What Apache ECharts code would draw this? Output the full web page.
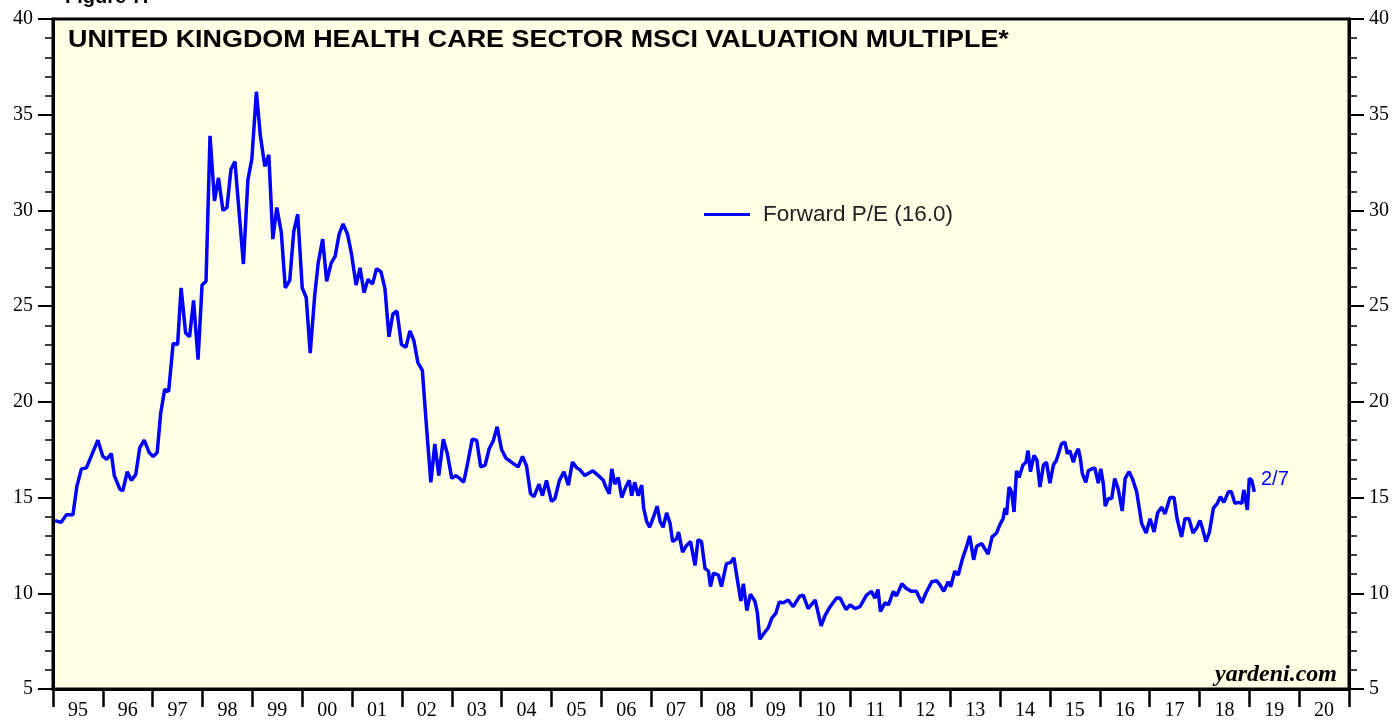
<!DOCTYPE html>
<html>
<head>
<meta charset="utf-8">
<script src="https://cdn.jsdelivr.net/npm/echarts@6/dist/echarts.min.js"></script>
<style>
html,body{margin:0;padding:0;background:#fff;}
#chart{width:1395px;height:721px;}
</style>
</head>
<body>
<div id="chart"></div>
<script>
const yearLabels = ['95','96','97','98','99','00','01','02','03','04','05','06','07','08','09','10','11','12','13','14','15','16','17','18','19','20'];
const yTicks = [5, 40, 5]; // min, max, step

const dates = [
1995.04,1995.16,1995.27,1995.40,1995.48,1995.57,1995.67,1995.90,1996.00,1996.08,1996.17,1996.23,1996.34,1996.40,1996.49,1996.57,1996.66,1996.74,1996.83,1996.93,
1997.01,1997.09,1997.16,1997.24,1997.32,1997.41,1997.50,1997.57,1997.66,1997.74,1997.82,1997.91,1997.99,1998.07,1998.15,1998.24,1998.32,1998.41,1998.49,1998.57,
1998.65,1998.82,1998.91,1998.99,1999.08,1999.16,1999.25,1999.33,1999.41,1999.49,1999.58,1999.66,1999.75,1999.83,1999.91,2000.00,2000.08,2000.16,2000.25,2000.32,
2000.41,2000.49,2000.58,2000.66,2000.74,2000.82,2000.91,2000.99,2001.08,2001.16,2001.24,2001.32,2001.41,2001.49,2001.58,2001.66,2001.74,2001.82,2001.90,2001.99,
2002.08,2002.16,2002.24,2002.32,2002.41,2002.49,2002.58,2002.66,2002.74,2002.83,2002.91,2003.00,2003.08,2003.16,2003.24,2003.33,2003.41,2003.50,2003.58,2003.67,
2003.75,2003.83,2003.91,2004.00,2004.09,2004.17,2004.25,2004.33,2004.42,2004.50,2004.58,2004.65,2004.75,2004.82,2004.90,2005.00,2005.07,2005.16,2005.25,2005.34,
2005.42,2005.51,2005.57,2005.67,2005.83,2005.94,2006.04,2006.09,2006.16,2006.21,2006.27,2006.34,2006.41,2006.49,2006.56,2006.61,2006.67,2006.74,2006.81,2006.85,
2006.91,2006.97,2007.05,2007.12,2007.18,2007.24,2007.31,2007.38,2007.43,2007.51,2007.55,2007.63,2007.71,2007.79,2007.88,2007.94,2008.01,2008.08,2008.15,2008.19,
2008.25,2008.35,2008.41,2008.51,2008.59,2008.66,2008.73,2008.80,2008.85,2008.92,2008.99,2009.08,2009.13,2009.18,2009.26,2009.35,2009.42,2009.50,2009.57,2009.65,
2009.75,2009.85,2009.98,2010.05,2010.15,2010.29,2010.41,2010.49,2010.59,2010.72,2010.79,2010.91,2010.99,2011.09,2011.19,2011.32,2011.42,2011.49,2011.55,2011.60,
2011.69,2011.76,2011.86,2011.92,2012.03,2012.12,2012.22,2012.32,2012.43,2012.51,2012.63,2012.73,2012.79,2012.87,2012.96,2013.01,2013.09,2013.16,2013.24,2013.33,
2013.39,2013.47,2013.53,2013.63,2013.76,2013.84,2013.93,2013.99,2014.06,2014.10,2014.13,2014.18,2014.23,2014.28,2014.33,2014.38,2014.46,2014.52,2014.56,2014.61,
2014.68,2014.74,2014.80,2014.87,2014.93,2015.00,2015.07,2015.13,2015.19,2015.23,2015.30,2015.35,2015.40,2015.47,2015.52,2015.57,2015.61,2015.65,2015.72,2015.77,
2015.84,2015.90,2015.97,2016.02,2016.07,2016.11,2016.17,2016.24,2016.30,2016.37,2016.45,2016.51,2016.59,2016.66,2016.74,2016.84,2016.93,2017.01,2017.09,2017.16,
2017.24,2017.31,2017.41,2017.49,2017.55,2017.64,2017.71,2017.79,2017.87,2017.94,2018.01,2018.06,2018.13,2018.20,2018.28,2018.36,2018.42,2018.49,2018.58,2018.64,
2018.71,2018.78,2018.85,2018.89,2018.96,2019.00,2019.05,2019.08,2019.10
];
const forwardPE = [
13.8,13.7,14.1,14.1,15.6,16.5,16.55,18.0,17.15,17.0,17.3,16.15,15.45,15.35,16.35,15.9,16.2,17.6,18.0,17.35,
17.15,17.35,19.4,20.65,20.55,23.05,23.0,25.95,23.6,23.4,25.3,22.2,26.1,26.3,33.9,30.5,31.7,30.0,30.15,32.15,
32.55,27.2,31.6,32.7,36.2,33.9,32.3,32.9,28.5,30.15,28.85,25.95,26.35,28.9,29.8,25.95,25.45,22.55,25.55,27.25,
28.5,26.3,27.25,27.6,28.75,29.3,28.75,27.7,26.1,27.0,25.7,26.4,26.15,26.95,26.8,25.9,23.4,24.6,24.75,23.0,
22.85,23.7,23.2,22.05,21.65,18.8,15.8,17.8,16.15,18.05,17.3,16.0,16.15,16.0,15.8,16.95,18.05,18.0,16.6,16.7,
17.55,17.95,18.7,17.5,17.05,16.9,16.75,16.6,17.15,16.65,15.2,15.05,15.7,15.1,15.9,14.8,14.95,15.9,16.35,15.65,
16.85,16.55,16.45,16.15,16.4,16.15,15.9,15.55,15.2,16.5,15.7,16.05,15.0,15.55,15.9,15.1,15.8,15.1,15.65,14.45,
13.75,13.45,14.0,14.55,13.75,13.45,14.2,13.65,12.7,12.85,13.2,12.15,12.5,12.7,11.45,12.8,12.7,11.3,11.15,10.35,
11.05,10.95,10.35,11.55,11.6,11.85,10.7,9.6,10.5,9.1,9.95,9.6,9.0,7.6,7.9,8.2,8.7,8.95,9.55,9.5,
9.65,9.3,9.85,9.9,9.2,9.65,8.3,8.85,9.3,9.75,9.75,9.15,9.4,9.2,9.3,9.9,10.1,9.75,10.2,9.05,
9.5,9.4,10.1,9.85,10.5,10.25,10.1,10.1,9.5,10.0,10.6,10.65,10.45,10.1,10.6,10.35,11.15,10.95,11.75,12.45,
13.0,11.75,12.45,12.6,12.05,12.95,13.15,13.55,13.9,14.45,14.1,15.55,15.3,14.25,16.4,16.05,16.7,16.85,17.45,16.35,
17.2,16.95,15.55,16.7,16.85,15.75,16.7,16.95,17.45,17.8,17.9,17.3,17.45,16.85,17.3,17.55,17.05,16.25,15.8,16.4,
16.5,16.55,15.75,16.5,15.75,14.55,14.95,14.95,16.0,15.45,14.3,16.0,16.35,15.95,15.3,13.65,13.15,13.9,13.2,14.2,
14.5,14.15,15.0,15.0,13.9,12.95,13.9,13.9,13.15,13.4,13.8,13.4,12.7,13.2,14.45,14.7,15.05,14.75,15.3,15.3,
14.7,14.75,14.7,15.4,14.35,16.0,15.9,16.0,15.3
];
const seriesName = 'Forward P/E (16.0)';
const titleText = 'UNITED KINGDOM HEALTH CARE SECTOR MSCI VALUATION MULTIPLE*';
const lastDateLabel = '2/7';

const seriesData = dates.map((d, i) => [d, forwardPE[i]]);

const chart = echarts.init(document.getElementById('chart'), null, {renderer: 'canvas'});

const yAxisBase = (pos) => ({
  type: 'value', position: pos, min: yTicks[0], max: yTicks[1], interval: yTicks[2],
  axisLine: {show: true, lineStyle: {color: '#000', width: 3}},
  axisTick: {show: true, inside: false, length: 15, lineStyle: {color: '#000', width: 2}},
  minorTick: {show: true, splitNumber: 5, length: 8, lineStyle: {color: '#000', width: 1.5}},
  axisLabel: {color: '#000', fontFamily: 'Liberation Serif', fontSize: 20, margin: 20},
  splitLine: {show: false}
});

const option = {
  animation: false,
  backgroundColor: '#fff',
  grid: {left: 53, right: 46, top: 19, bottom: 30, show: true, backgroundColor: '#FFFFE6', borderColor: '#000', borderWidth: 3},
  legend: {
    data: [seriesName], left: 699, top: 198, icon: 'rect', itemWidth: 46, itemHeight: 3,
    textStyle: {fontFamily: 'Liberation Sans', fontSize: 22.5, color: '#222', padding: [0, 0, 0, 8]}
  },
  xAxis: [
    {
      type: 'value', min: 1995, max: 2021, interval: 1, position: 'bottom',
      axisLine: {show: true, lineStyle: {color: '#000', width: 3}},
      axisTick: {show: true, length: 18, lineStyle: {color: '#000', width: 2.5}},
      axisLabel: {show: false}, splitLine: {show: false}
    },
    {
      type: 'category', data: yearLabels, position: 'bottom', boundaryGap: true,
      axisLine: {show: false}, axisTick: {show: false}, splitLine: {show: false},
      axisLabel: {color: '#000', fontFamily: 'Liberation Serif', fontSize: 20, margin: 12, interval: 0}
    }
  ],
  yAxis: [yAxisBase('left'), yAxisBase('right')],
  series: [{
    name: seriesName, type: 'line', xAxisIndex: 0, yAxisIndex: 0, data: seriesData,
    showSymbol: false, symbol: 'none', lineStyle: {color: '#0000FF', width: 3.5}, itemStyle: {color: '#0000FF'}
  }],
  graphic: [
    {type: 'text', left: 65, top: -13, style: {text: 'Figure 7.', fontFamily: 'Liberation Sans', fontWeight: 'bold', fontSize: 20, fill: '#000'}},
    {type: 'text', x: 68, y: 29, scaleX: 1.17, style: {text: titleText, fontFamily: 'Liberation Sans', fontWeight: 'bold', fontSize: 23, fill: '#000'}},
    {type: 'text', right: 58, top: 663, style: {text: 'yardeni.com', fontFamily: 'Liberation Serif', fontWeight: 'bold', fontStyle: 'italic', fontSize: 24, fill: '#000'}},
    {type: 'text', left: 1261, top: 469, style: {text: lastDateLabel, fontFamily: 'Liberation Sans', fontSize: 20, fill: '#0000FF'}}
  ]
};
chart.setOption(option);
</script>
</body>
</html>
